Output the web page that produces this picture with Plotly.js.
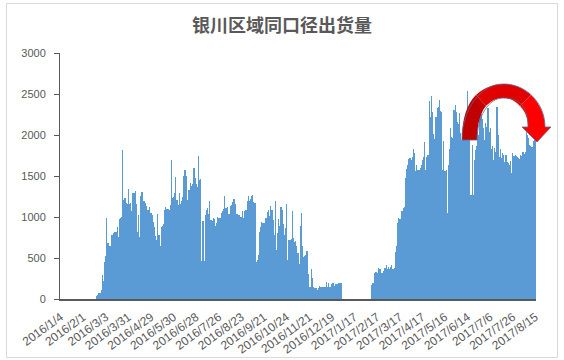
<!DOCTYPE html>
<html><head><meta charset="utf-8">
<script src="https://cdn.plot.ly/plotly-3.0.1.min.js"></script>
<style>html,body{margin:0;padding:0;background:#fff}#chart{width:564px;height:360px}</style>
</head><body><div id="chart"></div>
<script>
const chartTitle = '银川区域同口径出货量';
const tickLabels = ['2016/1/4','2016/2/1','2016/3/3','2016/3/31','2016/4/29','2016/5/30','2016/6/28','2016/7/26','2016/8/23','2016/9/21','2016/10/24','2016/11/21','2016/12/19','2017/1/17','2017/2/17','2017/3/17','2017/4/17','2017/5/16','2017/6/14','2017/7/6','2017/7/26','2017/8/15'];
const labelStep = 20;
const shipments = [
0,0,0,0,0,0,0,0,0,0,0,0,0,0,0,0,0,0,0,0,0,0,0,0,0,0,0,0,0,0,0,0,
37,53,73,69,110,293,220,451,525,988,679,646,646,776,776,800,817,817,882,752,972,988,996,1817,1207,1228,1175,1159,1338,1159,1175,1077,
1290,1290,1321,1158,820,1025,760,1256,1309,1199,1199,1167,1140,1085,1085,1118,1053,1020,943,883,768,720,1037,780,646,883,891,915,1085,1118,1094,1094,1085,1146,1695,
1228,1240,1297,1492,1207,1146,1297,1158,1199,1240,1500,1573,1500,1207,1329,1329,1418,1377,1402,1593,1471,1402,1369,1744,1451,1460,463,955,463,1025,1085,1110,1037,1199,963,
955,982,970,894,931,995,990,990,1053,1077,1093,1256,1110,1114,1126,1037,1134,1150,1179,1216,1220,1159,1037,1025,1025,1004,1000,1069,982,1077,1085,1199,1256,1199,1216,1256,1268,1187,1167,
455,476,537,817,882,939,931,931,991,988,1061,1085,1012,1134,1085,963,780,1195,597,808,972,890,1118,1085,914,776,866,1159,
476,720,720,730,1073,740,700,711,646,565,427,890,1053,646,516,520,537,586,305,150,150,366,252,150,130,130,110,130,159,150,150,150,150,150,203,150,199,150,150,183,199,160,183,183,183,190,199,199,
0,0,0,0,0,0,0,0,0,0,0,0,0,0,0,0,0,0,0,0,0,0,0,0,0,0,
171,191,191,313,325,313,378,366,366,313,313,340,378,415,366,394,366,394,415,366,382,577,646,923,992,976,976,1073,1114,1120,
1480,1586,1634,1707,1724,1695,1736,1830,1777,1561,1634,1573,1573,1598,1634,1695,1736,1911,1573,1736,1760,
2415,2224,2476,2285,2008,1950,2224,2325,2346,2427,2293,2276,1573,1927,1561,1573,1044,1634,1834,2081,1980,1960,2305,2366,2285,2163,2130,2264,2020,1939,2000,1950,2050,2203,2537,2100,1940,1268,1874,1268,
1700,1817,1870,2118,1996,2240,2260,2200,2081,1939,2143,2100,2325,2041,2080,1834,1870,1695,1840,1797,2346,1996,1736,1830,1716,1780,1756,1675,1756,1667,1654,1634,1680,1533,1777,1750,1756,1748,1730,1720,1710,1756,1740,1797,1770,1797,2041,2000,1958,1874,1860,1854,1927,1958,2020
];

const W = 564, H = 360, ML = 60, MR = 28, MT = 53, MB = 61;
const PW = W - ML - MR, PH = H - MT - MB;
const fx = x => ((x - ML) / PW).toFixed(4);
const fy = y => ((H - MB - y) / PH).toFixed(4);
const p = (x, y) => fx(x) + ',' + fy(y);

// decorative curved arrow (three tones to mimic the gradient)
const arrowLeft = 'M' + p(462,140) + ' C' + p(462,118) + ' ' + p(467,104) + ' ' + p(476,95) +
  ' L' + p(486,106) + ' C' + p(480,113) + ' ' + p(477,125) + ' ' + p(477,140) + ' Z';
const arrowMid = 'M' + p(476,95) + ' C' + p(484,88) + ' ' + p(492,84) + ' ' + p(503.5,84) +
  ' C' + p(515,84) + ' ' + p(523,88) + ' ' + p(531,95) +
  ' L' + p(520,106) + ' C' + p(515,101) + ' ' + p(510,98) + ' ' + p(503,98) +
  ' C' + p(496,98) + ' ' + p(491,101) + ' ' + p(486,106) + ' Z';
const arrowRight = 'M' + p(531,95) + ' C' + p(540,104) + ' ' + p(545,115) + ' ' + p(545,127) +
  ' L' + p(551,127) + ' L' + p(537,142) + ' L' + p(522,127) + ' L' + p(528,127) +
  ' C' + p(528,118) + ' ' + p(525,111) + ' ' + p(520,106) + ' Z';
const arrowOutline = 'M' + p(462,140) + ' C' + p(462,109) + ' ' + p(480.6,84) + ' ' + p(503.5,84) +
  ' C' + p(526.4,84) + ' ' + p(545,103) + ' ' + p(545,127) +
  ' L' + p(551,127) + ' L' + p(537,142) + ' L' + p(522,127) + ' L' + p(528,127) +
  ' C' + p(528,104) + ' ' + p(517.4,98) + ' ' + p(503,98) +
  ' C' + p(488.6,98) + ' ' + p(477,116.8) + ' ' + p(477,140) + ' Z';

const trace = {
  type: 'bar',
  x: shipments.map((_, i) => i),
  y: shipments,
  marker: {color: '#5B9BD5', line: {width: 0}},
  hoverinfo: 'y'
};

const layout = {
  width: W, height: H,
  margin: {l: ML, r: MR, t: MT, b: MB, pad: 0},
  paper_bgcolor: '#ffffff', plot_bgcolor: '#ffffff',
  showlegend: false,
  bargap: 0,
  title: {text: chartTitle, x: 0.5, xanchor: 'center', y: 1 - 26/H, yanchor: 'middle',
    font: {family: 'Noto Sans CJK SC, sans-serif', size: 18, color: '#595959', weight: 'bold'}},
  xaxis: {
    range: [-0.5, shipments.length - 0.5],
    tickmode: 'array',
    tickvals: tickLabels.map((_, k) => k * labelStep),
    ticktext: tickLabels,
    tickangle: -36,
    ticklabelstandoff: 5,
    tickfont: {family: 'Liberation Sans, Arial, sans-serif', size: 12, color: '#595959'},
    ticks: '', showline: true, linecolor: '#595959', linewidth: 1.5,
    showgrid: false, zeroline: false, fixedrange: true
  },
  yaxis: {
    range: [0, 3000], tick0: 0, dtick: 500,
    ticks: 'outside', ticklen: 5, tickcolor: '#595959', tickwidth: 1,
    ticklabelstandoff: 6,
    tickfont: {family: 'Liberation Sans, Arial, sans-serif', size: 11, color: '#595959'},
    showline: true, linecolor: '#595959', linewidth: 1,
    showgrid: false, zeroline: false, fixedrange: true
  },
  shapes: [
    {type: 'rect', xref: 'paper', yref: 'paper', x0: fx(6.5), x1: fx(557.5), y0: fy(357.5), y1: fy(3.5),
      line: {color: '#d9d9d9', width: 1}, fillcolor: 'rgba(0,0,0,0)', layer: 'below'},
    {type: 'path', xref: 'paper', yref: 'paper', path: arrowLeft, fillcolor: '#c00000', line: {width: 0}},
    {type: 'path', xref: 'paper', yref: 'paper', path: arrowMid, fillcolor: '#e00000', line: {width: 0}},
    {type: 'path', xref: 'paper', yref: 'paper', path: arrowRight, fillcolor: '#ff0000', line: {width: 0}},
    {type: 'path', xref: 'paper', yref: 'paper', path: arrowOutline, fillcolor: 'rgba(0,0,0,0)', line: {color: '#5a6a8a', width: 0.8}}
  ]
};

Plotly.newPlot('chart', [trace], layout, {displayModeBar: false, staticPlot: true});
</script>
</body></html>
